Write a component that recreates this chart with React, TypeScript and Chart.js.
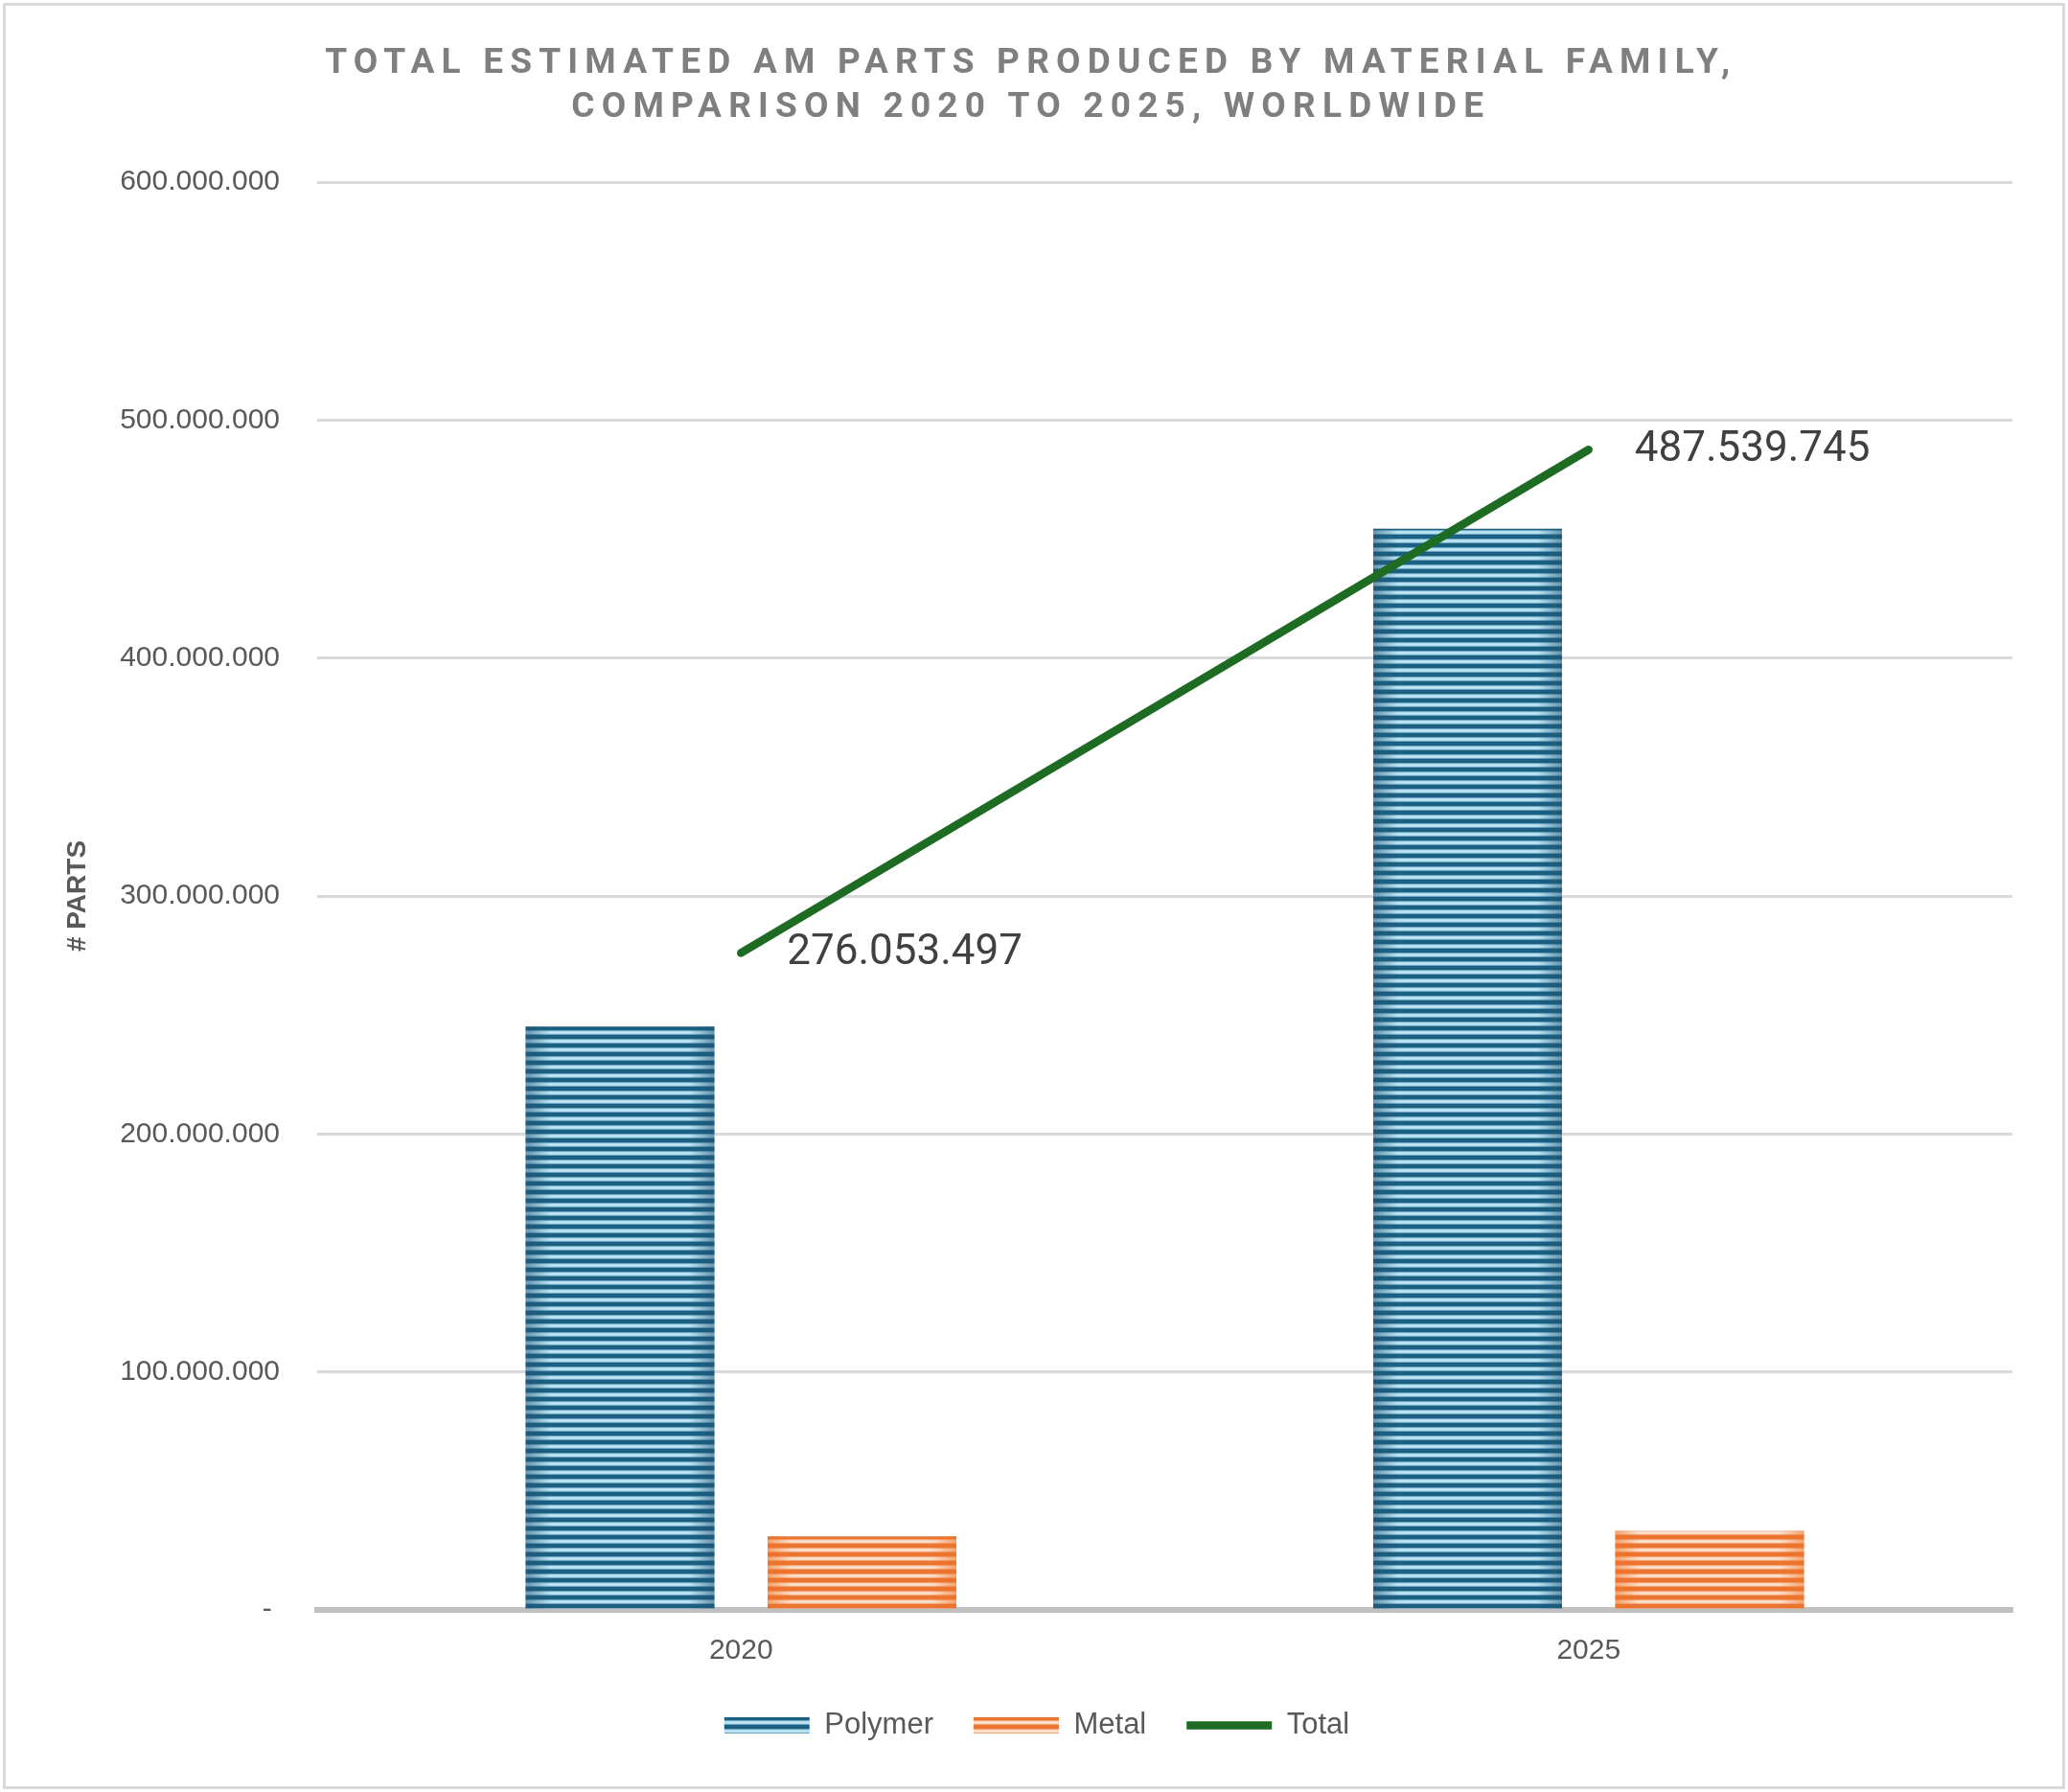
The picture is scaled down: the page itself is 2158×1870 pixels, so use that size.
import React, { useEffect, useRef } from "react";
import { Chart, registerables } from "chart.js";

Chart.register(...registerables);

const categories = ["2020", "2025"];
const polymerValues = [245100000, 454300000];
const metalValues = [30950000, 33240000];
const totalValues = [276053497, 487539745];
const yTickValues = [0, 100000000, 200000000, 300000000, 400000000, 500000000, 600000000];
const seriesNames = ["Polymer", "Metal", "Total"];
const titleLines = [
  "TOTAL ESTIMATED AM PARTS PRODUCED BY MATERIAL FAMILY,",
  "COMPARISON 2020 TO 2025, WORLDWIDE",
];
const yAxisTitle = "# PARTS";

function fmt(v: number): string {
  return Math.round(v)
    .toString()
    .replace(/\B(?=(\d{3})+(?!\d))/g, ".");
}

function makePattern(rows: string[]): CanvasPattern | string {
  const c = document.createElement("canvas");
  c.width = 4;
  c.height = rows.length;
  const g = c.getContext("2d");
  if (!g) return rows[0];
  rows.forEach((col, i) => {
    g.fillStyle = col;
    g.fillRect(0, i, 4, 1);
  });
  return g.createPattern(c, "repeat") || rows[0];
}

const frameAndTitle = {
  id: "frameAndTitle",
  beforeDraw(chart: any) {
    const { ctx, width, height } = chart;
    ctx.save();
    ctx.fillStyle = "#ffffff";
    ctx.fillRect(0, 0, width, height);
    ctx.strokeStyle = "#d9d9d9";
    ctx.lineWidth = 3;
    ctx.strokeRect(4.5, 4.5, width - 9, height - 9);
    ctx.restore();
  },
  afterDraw(chart: any) {
    const { ctx, width } = chart;
    ctx.save();
    ctx.fillStyle = "#7f7f7f";
    ctx.font = "bold 37px Roboto";
    (ctx as any).letterSpacing = "7.2px";
    ctx.textAlign = "center";
    ctx.textBaseline = "alphabetic";
    const baselines = [76, 122];
    titleLines.forEach((line, i) => {
      ctx.fillText(line, width / 2 - 3.2, baselines[i]);
    });
    ctx.restore();
  },
};

const barShading = {
  id: "barShading",
  afterDatasetDraw(chart: any, args: any) {
    const meta = args.meta;
    if (meta.type !== "bar") return;
    const edge = meta.index === 0 ? "30,85,115" : "235,115,40";
    const { ctx } = chart;
    ctx.save();
    meta.data.forEach((el: any) => {
      const { x, y, base, width } = el.getProps(["x", "y", "base", "width"], true);
      const left = x - width / 2;
      const g = ctx.createLinearGradient(left, 0, left + width, 0);
      g.addColorStop(0, `rgba(${edge},0.55)`);
      g.addColorStop(0.13, `rgba(${edge},0)`);
      g.addColorStop(0.87, `rgba(${edge},0)`);
      g.addColorStop(1, `rgba(${edge},0.55)`);
      ctx.fillStyle = g;
      ctx.fillRect(left, Math.min(y, base), width, Math.abs(base - y));
    });
    ctx.restore();
  },
};

const lineLabels = {
  id: "lineLabels",
  afterDatasetsDraw(chart: any) {
    const { ctx } = chart;
    chart.data.datasets.forEach((ds: any, di: number) => {
      if (ds.type !== "line") return;
      const meta = chart.getDatasetMeta(di);
      ctx.save();
      ctx.fillStyle = "#404040";
      ctx.font = "44px Roboto";
      ctx.textAlign = "left";
      ctx.textBaseline = "middle";
      meta.data.forEach((pt: any, i: number) => {
        ctx.fillText(fmt(ds.data[i]), pt.x + 48, pt.y + 1);
      });
      ctx.restore();
    });
  },
};

export default function App() {
  const canvasRef = useRef<HTMLCanvasElement | null>(null);

  useEffect(() => {
    document.body.style.margin = "0";
    const canvas = canvasRef.current;
    if (!canvas) return;

    const polymerPattern = makePattern([
      "#1b5f82",
      "#1b5f82",
      "#1b5f82",
      "#1b5f82",
      "#6ea5c0",
      "#b3dcee",
      "#bee3f3",
      "#b3dcee",
      "#6ea5c0",
    ]);
    const metalPattern = makePattern([
      "#ec7431",
      "#ec7431",
      "#ec7431",
      "#ec7431",
      "#f4a676",
      "#fad6bf",
      "#fde3d2",
      "#fad6bf",
      "#f4a676",
    ]);

    Chart.defaults.font.family = "'Liberation Sans', Arial, sans-serif";

    const chart = new Chart(canvas, {
      type: "bar",
      data: {
        labels: categories,
        datasets: [
          {
            type: "bar",
            label: seriesNames[0],
            data: polymerValues,
            backgroundColor: polymerPattern as any,
            borderWidth: 0,
            pointStyle: "rect",
            order: 1,
            categoryPercentage: 0.571,
            barPercentage: 0.78,
          } as any,
          {
            type: "bar",
            label: seriesNames[1],
            data: metalValues,
            backgroundColor: metalPattern as any,
            borderWidth: 0,
            pointStyle: "rect",
            order: 1,
            categoryPercentage: 0.571,
            barPercentage: 0.78,
          } as any,
          {
            type: "line",
            label: seriesNames[2],
            data: totalValues,
            borderColor: "#1e6b24",
            backgroundColor: "#1e6b24",
            borderWidth: 8.5,
            borderCapStyle: "round",
            pointRadius: 0,
            pointHoverRadius: 0,
            pointStyle: "line",
            fill: false,
            order: 0,
          } as any,
        ],
      },
      options: {
        responsive: false,
        animation: false,
        devicePixelRatio: 1,
        layout: { padding: { top: 190, right: 58, bottom: 44, left: 64 } },
        plugins: {
          title: { display: false },
          tooltip: { enabled: false },
          legend: {
            display: true,
            position: "bottom",
            labels: {
              usePointStyle: true,
              pointStyleWidth: 89,
              boxHeight: 17,
              padding: 42,
              color: "#595959",
              font: { size: 31 },
              sort: (a: any, b: any) => a.datasetIndex - b.datasetIndex,
            },
          },
        },
        scales: {
          x: {
            grid: { display: false, drawTicks: false },
            border: { display: true, color: "#bfbfbf", width: 6 },
            ticks: { color: "#595959", font: { size: 30 }, padding: 25 },
            afterFit: (scale: any) => {
              scale.height = 63;
            },
          },
          y: {
            min: 0,
            max: 600000000,
            afterBuildTicks: (scale: any) => {
              scale.ticks = yTickValues.map((v) => ({ value: v }));
            },
            afterFit: (scale: any) => {
              scale.width = 267;
            },
            grid: { color: "#d9d9d9", lineWidth: 3, drawTicks: false },
            border: { display: false },
            ticks: {
              color: "#595959",
              font: { size: 30 },
              padding: 39,
              callback: (v: any) => (Number(v) === 0 ? "- " : fmt(Number(v))),
            },
            title: {
              display: true,
              text: yAxisTitle,
              color: "#595959",
              font: { size: 28, weight: "bold" },
              padding: { top: 0, bottom: 24 },
            },
          },
        },
      },
      plugins: [frameAndTitle, barShading, lineLabels],
    } as any);

    return () => {
      chart.destroy();
    };
  }, []);

  return (
    <div style={{ width: 2158, height: 1870 }}>
      <canvas ref={canvasRef} width={2158} height={1870} style={{ display: "block" }} />
    </div>
  );
}
